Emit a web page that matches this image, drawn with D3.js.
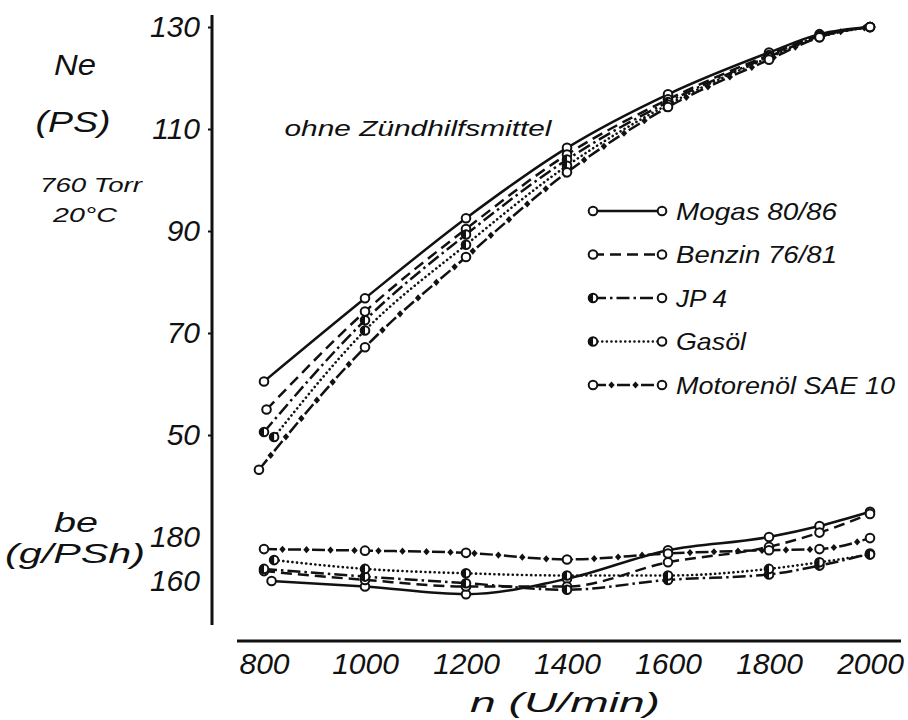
<!DOCTYPE html>
<html>
<head>
<meta charset="utf-8">
<script src="https://cdn.jsdelivr.net/npm/d3@7"></script>
<style>
  body { margin: 0; background: #fff; }
  svg text { font-family: 'Liberation Sans', Arial, sans-serif; font-style: italic; fill: #111; }
</style>
</head>
<body>
<div id="chart"></div>
<script>
// fuels, in legend order
const fuels = ['Mogas 80/86', 'Benzin 76/81', 'JP 4', 'Gasöl', 'Motorenöl SAE 10'];

// engine speed n (U/min) of the measured points, first point differs a bit per curve
const rpm = [800, 1000, 1200, 1400, 1600, 1800, 1900, 2000];
const neFirstRpm = [800, 805, 800, 820, 790];
const beFirstRpm = [815, 800, 800, 820, 800];

// power Ne (PS)
const neMogas = [60.5, 76.8, 92.5, 106.3, 116.8, 125.0, 128.6, 130.0];
const neBenzin = [55.0, 74.2, 90.4, 105.0, 115.8, 124.5, 128.3, 130.0];
const neJP4 = [50.6, 72.5, 89.3, 104.0, 115.3, 124.2, 128.2, 130.0];
const neGasoel = [49.6, 70.5, 87.3, 102.8, 114.8, 124.0, 128.0, 130.0];
const neMotoroel = [43.2, 67.2, 84.9, 101.5, 114.3, 123.6, 128.0, 130.0];

// specific consumption be (g/PSh)
const beMogas = [160.0, 157.5, 154.0, 161.0, 174.0, 180.0, 185.0, 191.5];
const beBenzin = [164.5, 160.5, 157.5, 157.5, 168.5, 175.5, 182.0, 190.5];
const beJP4 = [165.5, 162.0, 159.0, 156.0, 160.5, 163.0, 167.0, 172.5];
const beGasoel = [169.5, 165.5, 163.5, 162.5, 162.5, 165.5, 168.5, 172.0];
const beMotoroel = [174.5, 173.8, 172.8, 169.8, 172.5, 174.0, 174.5, 179.5];

// axis ticks
const xTicks = [800, 1000, 1200, 1400, 1600, 1800, 2000];
const neTicks = [50, 70, 90, 110, 130];
const beTicks = [160, 180];

class EngineChart {

  constructor(_config) {
    this.config = {
      parentElement: _config.parentElement,
      containerWidth: 908,
      containerHeight: 720,
      spineX: 212,
      baseY: 641
    };
    this.initVis();
  }

  initVis() {
    let vis = this;

    vis.xScale = d3.scaleLinear().domain([800, 2000]).range([264, 870]);
    vis.neScale = d3.scaleLinear().domain([50, 130]).range([435, 27]);
    vis.beScale = d3.scaleLinear().domain([160, 180]).range([581, 537]);

    vis.svg = d3.select(vis.config.parentElement).append('svg')
      .attr('width', vis.config.containerWidth)
      .attr('height', vis.config.containerHeight);

    // line style per fuel
    vis.styles = [
      {dash: null, marker: 'open'},
      {dash: '11,6', marker: 'open'},
      {dash: '13,4,2.5,4', marker: 'half'},
      {dash: '0.1,4.5', marker: 'half', round: true},
      {dash: '13,11', marker: 'open', diamonds: true}
    ];

    vis.neData = fuels.map((f, i) => ({
      fuel: f,
      points: rpm.map((n, j) => ({n: j === 0 ? neFirstRpm[i] : n, v: [neMogas, neBenzin, neJP4, neGasoel, neMotoroel][i][j]}))
    }));
    vis.beData = fuels.map((f, i) => ({
      fuel: f,
      points: rpm.map((n, j) => ({n: j === 0 ? beFirstRpm[i] : n, v: [beMogas, beBenzin, beJP4, beGasoel, beMotoroel][i][j]}))
    }));

    vis.renderVis();
  }

  // draws small filled diamonds in the gaps of a dashed path
  decorate(g, pathNode) {
    let len = pathNode.getTotalLength();
    for (let d = 18.5; d < len - 4; d += 24) {
      let p = pathNode.getPointAtLength(d);
      g.append('path')
        .attr('d', 'M0,-3.6L3.2,0L0,3.6L-3.2,0Z')
        .attr('transform', `translate(${p.x},${p.y})`)
        .attr('fill', '#111');
    }
  }

  marker(g, x, y, type) {
    g.append('circle')
      .attr('cx', x).attr('cy', y).attr('r', 4.3)
      .attr('fill', '#fff').attr('stroke', '#111').attr('stroke-width', 2);
    if (type === 'half') {
      g.append('path')
        .attr('d', `M${x},${y - 4.3}A4.3,4.3 0 0 0 ${x},${y + 4.3}Z`)
        .attr('fill', '#111');
    }
  }

  drawFamily(data, yScale) {
    let vis = this;
    let line = d3.line()
      .x(d => vis.xScale(d.n))
      .y(d => yScale(d.v))
      .curve(d3.curveMonotoneX);

    let g = vis.svg.append('g');
    data.forEach((s, i) => {
      let st = vis.styles[i];
      let p = g.append('path')
        .datum(s.points)
        .attr('d', line)
        .attr('fill', 'none')
        .attr('stroke', '#111')
        .attr('stroke-width', st.round ? 2.6 : 2.5)
        .attr('stroke-linecap', st.round ? 'round' : 'butt')
        .attr('stroke-dasharray', st.dash);
      if (st.diamonds) vis.decorate(g, p.node());
    });
    data.forEach((s, i) => {
      s.points.forEach(d => vis.marker(g, vis.xScale(d.n), yScale(d.v), vis.styles[i].marker));
    });
  }

  renderVis() {
    let vis = this;
    let sx = vis.config.spineX;

    // axes
    let neAxis = d3.axisLeft(vis.neScale).tickValues(neTicks).tickSize(4).tickPadding(8);
    let beAxis = d3.axisLeft(vis.beScale).tickValues(beTicks).tickSize(0).tickPadding(12);
    let xAxis = d3.axisBottom(vis.xScale).tickValues(xTicks).tickFormat(d3.format('d'))
      .tickSize(0).tickPadding(12);

    [[neAxis, `translate(${sx},0)`], [beAxis, `translate(${sx},0)`],
     [xAxis, `translate(0,${vis.config.baseY})`]].forEach(([ax, tr]) => {
      vis.svg.append('g')
        .attr('transform', tr)
        .call(ax)
        .call(g => g.select('.domain').remove())
        .call(g => g.selectAll('line').attr('stroke', '#111').attr('stroke-width', 2))
        .call(g => g.selectAll('text')
          .attr('font-family', null)
          .style('font-size', '30px'));
    });

    vis.svg.append('line')
      .attr('x1', sx).attr('x2', sx).attr('y1', 15).attr('y2', 625)
      .attr('stroke', '#111').attr('stroke-width', 3);
    vis.svg.append('line')
      .attr('x1', 237).attr('x2', 901).attr('y1', vis.config.baseY).attr('y2', vis.config.baseY)
      .attr('stroke', '#111').attr('stroke-width', 3);

    // axis titles and notes
    const labels = [
      {t: 'Ne', x: 75, y: 75, s: 29, w: 42},
      {t: '(PS)', x: 73, y: 132, s: 29, w: 75},
      {t: '760 Torr', x: 91, y: 192, s: 21, w: 102},
      {t: '20°C', x: 85, y: 222, s: 21, w: 64},
      {t: 'be', x: 76, y: 532, s: 28, w: 44},
      {t: '(g/PSh)', x: 75, y: 563, s: 28, w: 140},
      {t: 'n (U/min)', x: 565, y: 712, s: 28, w: 190},
      {t: 'ohne Zündhilfsmittel', x: 418, y: 136, s: 22, w: 267}
    ];
    vis.svg.selectAll('.note')
      .data(labels)
      .join('text')
      .attr('class', 'note')
      .attr('x', d => d.x)
      .attr('y', d => d.y)
      .attr('text-anchor', 'middle')
      .attr('textLength', d => d.w)
      .attr('lengthAdjust', 'spacingAndGlyphs')
      .style('font-size', d => d.s + 'px')
      .text(d => d.t);

    vis.drawFamily(vis.neData, vis.neScale);
    vis.drawFamily(vis.beData, vis.beScale);

    // legend
    const legendW = [161, 161, 51, 70, 219];
    let lg = vis.svg.append('g');
    fuels.forEach((f, i) => {
      let y = 211 + i * 43.5;
      let st = vis.styles[i];
      let p = lg.append('line')
        .attr('x1', 593).attr('x2', 662).attr('y1', y).attr('y2', y)
        .attr('stroke', '#111').attr('stroke-width', 2.5)
        .attr('stroke-linecap', st.round ? 'round' : 'butt')
        .attr('stroke-dasharray', st.dash);
      if (st.diamonds) vis.decorate(lg, p.node());
      vis.marker(lg, 593, y, st.marker);
      vis.marker(lg, 662, y, 'open');
      lg.append('text')
        .attr('x', 676).attr('y', y + 8.5)
        .attr('textLength', legendW[i])
        .attr('lengthAdjust', 'spacingAndGlyphs')
        .style('font-size', '24px')
        .text(f);
    });
  }
}

new EngineChart({parentElement: '#chart'});
</script>
</body>
</html>
